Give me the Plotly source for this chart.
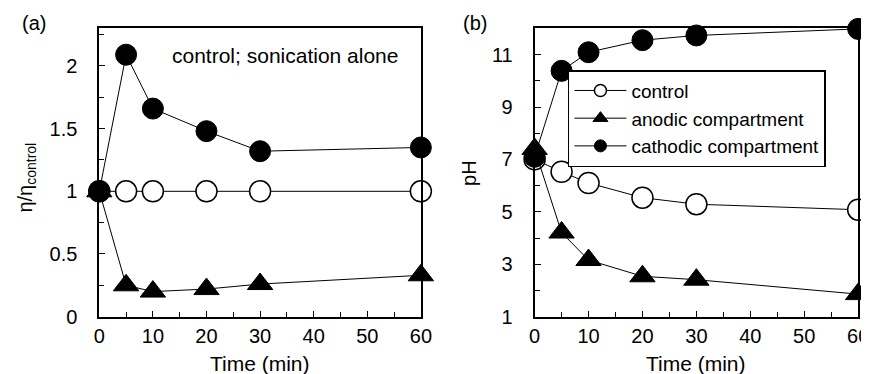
import plotly.graph_objects as go

time_min = [0, 5, 10, 20, 30, 60]

# Panel (a): relative viscosity
visc_control = [1, 1, 1, 1, 1, 1]
visc_anodic = [1, 0.25, 0.20, 0.22, 0.26, 0.33]
visc_cathodic = [1, 2.09, 1.66, 1.48, 1.32, 1.35]

# Panel (b): pH
ph_control = [7.0, 6.53, 6.10, 5.54, 5.29, 5.08]
ph_anodic = [7.4, 4.21, 3.16, 2.54, 2.41, 1.86]
ph_cathodic = [7.1, 10.38, 11.09, 11.55, 11.73, 11.98]

series_names = ["control", "anodic compartment", "cathodic compartment"]

FONT = "Liberation Sans, Arial, sans-serif"
W, H = 869, 374

fig = go.Figure()

styles = [
    dict(symbol="circle", size=21, color="white", line=dict(color="black", width=1.5)),
    dict(symbol="triangle-up", size=22, color="black", line=dict(color="black", width=1)),
    dict(symbol="circle", size=21, color="black", line=dict(color="black", width=1)),
]
legend_styles = [
    dict(symbol="circle", size=12, color="white", line=dict(color="black", width=1.5)),
    dict(symbol="triangle-up", size=13, color="black", line=dict(color="black", width=1)),
    dict(symbol="circle", size=12, color="black", line=dict(color="black", width=1)),
]

for ys, st in zip([visc_control, visc_anodic, visc_cathodic], styles):
    fig.add_trace(go.Scatter(x=time_min, y=ys, mode="lines+markers", marker=st,
                             line=dict(color="black", width=1), cliponaxis=False,
                             showlegend=False, xaxis="x", yaxis="y"))

for ys, st in zip([ph_control, ph_anodic, ph_cathodic], styles):
    fig.add_trace(go.Scatter(x=time_min, y=ys, mode="lines+markers", marker=st,
                             line=dict(color="black", width=1), cliponaxis=False,
                             showlegend=False, xaxis="x2", yaxis="y2"))

for name, st in zip(series_names, legend_styles):
    fig.add_trace(go.Scatter(x=[None], y=[None], mode="lines+markers", marker=st,
                             line=dict(color="black", width=1), name=name,
                             showlegend=True, xaxis="x2", yaxis="y2"))

ydom = [1 - 318 / H, 1 - 21 / H]
axis_common = dict(showline=True, linecolor="black", linewidth=1.8, mirror=True,
                   ticks="inside", ticklen=6, tickwidth=1.3, tickcolor="black",
                   showgrid=False, zeroline=False,
                   tickfont=dict(family=FONT, size=20, color="black"))

fig.update_layout(
    width=W, height=H,
    margin=dict(l=0, r=0, t=0, b=0),
    paper_bgcolor="white", plot_bgcolor="white",
    font=dict(family=FONT, color="black"),
    xaxis=dict(domain=[87 / W, 415 / W], range=[0, 60], tick0=0, dtick=10,
               minor=dict(dtick=5, ticks="inside", ticklen=5, tickcolor="black", tickwidth=1.2),
               anchor="y", **axis_common),
    yaxis=dict(domain=ydom, range=[0, 2.3], tick0=0, dtick=0.5, ticklabelstandoff=16,
               minor=dict(dtick=0.25, ticks="inside", ticklen=5, tickcolor="black", tickwidth=1.2),
               anchor="x", **axis_common),
    xaxis2=dict(domain=[531 / W, 861 / W], range=[0, 60], tick0=0, dtick=10,
                minor=dict(dtick=5, ticks="inside", ticklen=5, tickcolor="black", tickwidth=1.2),
                anchor="y2", **axis_common),
    yaxis2=dict(domain=ydom, range=[1, 12], tick0=1, dtick=2, ticklabelstandoff=16,
                minor=dict(tick0=1, dtick=1, ticks="inside", ticklen=5, tickcolor="black", tickwidth=1.2),
                anchor="x2", **axis_common),
    legend=dict(x=565 / W, y=1 - 64 / H, xanchor="left", yanchor="top",
                bgcolor="white", bordercolor="black", borderwidth=1.5,
                font=dict(family=FONT, size=19, color="black"),
                tracegroupgap=0, itemwidth=52),
    showlegend=True,
)

def ann(text, x, y, size=19, angle=0):
    fig.add_annotation(text=text, x=x / W, y=1 - y / H, xref="paper", yref="paper",
                       showarrow=False, textangle=angle,
                       font=dict(family=FONT, size=size, color="black"),
                       xanchor="center", yanchor="middle")

ann("(a)", 20, 15, size=20)
ann("(b)", 470, 15, size=20)
ann("control; sonication alone", 276, 49, size=21)
ann("Time (min)", 251, 366, size=21)
ann("Time (min)", 696, 366, size=21)
ann("η/η<sub>control</sub>", 13, 175, size=20, angle=-90)
ann("pH", 464, 170, size=20, angle=-90)

fig.write_html("out.html")
